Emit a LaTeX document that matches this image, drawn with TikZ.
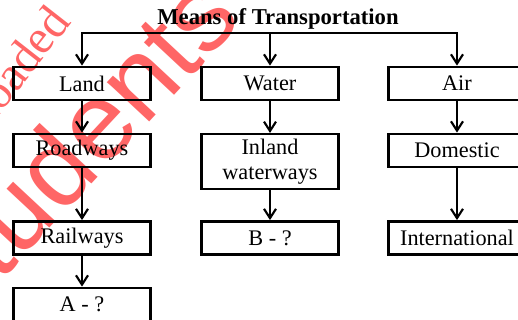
\documentclass[tikz,border=0pt]{standalone}
\usepackage{fontspec}
\setmainfont{Liberation Serif}
\newfontfamily\marksans{Liberation Sans}
\usetikzlibrary{arrows.meta}
\definecolor{markred}{RGB}{255,102,102}
\tikzset{%
    mbox/.style={draw=black,line width=1.8pt,minimum width=103pt,minimum height=25pt,inner sep=0pt,align=center,font=\fontsize{16.7}{19}\selectfont},
    arr/.style={line width=1.8pt,-{Straight Barb[length=7pt,width=9pt,line width=1.6pt]}},
    bigmark/.style={text=markred,inner sep=0pt,font=\marksans\fontsize{82}{82}\selectfont},
    smallmark/.style={text=markred,inner sep=0pt,font=\fontsize{36}{36}\selectfont}
}

\begin{document}
\begin{tikzpicture}[x=0.75pt,y=-0.75pt]
            \useasboundingbox (0,0) rectangle (518,320);
            \clip (0,0) rectangle (518,320);
            % watermarks
            \node[bigmark,rotate=47] (wmbig) at (68,152) {Students};
            \node[smallmark,rotate=52,anchor=base east] (wmsmall) at (72,22) {Downloaded};

            \node[anchor=base,font=\bfseries\fontsize{17}{20}\selectfont] (means) at (278,25) {Means of Transportation};
            \coordinate (split) at (270,33);

            \node[mbox] (land) at (82,83.5) {Land};
            \node[mbox] (water) at (270,83.5) {Water};
            \node[mbox] (air) at (457,83.5) {Air};
            \node[mbox] (road) at (82,150.5) {Roadways};
            \node[mbox,minimum height=41pt] (inland) at (270,161.5) {Inland\\waterways};
            \node[mbox] (domestic) at (457,150.5) {Domestic};
            \node[mbox] (rail) at (82,238) {Railways};
            \node[mbox] (bq) at (270,238) {B - ?};
            \node[mbox] (intl) at (457,238) {International};
            \node[mbox] (aq) at (82,304.5) {A - ?};

            \draw[arr] (split) -| (land);
            \draw[arr] (split) -- (water);
            \draw[arr] (split) -| (air);
            \draw[arr] (land) -- (road);
            \draw[arr] (road) -- (rail);
            \draw[arr] (rail) -- (aq);
            \draw[arr] (water) -- (inland);
            \draw[arr] (inland) -- (bq);
            \draw[arr] (air) -- (domestic);
            \draw[arr] (domestic) -- (intl);
        \end{tikzpicture}
\end{document}
